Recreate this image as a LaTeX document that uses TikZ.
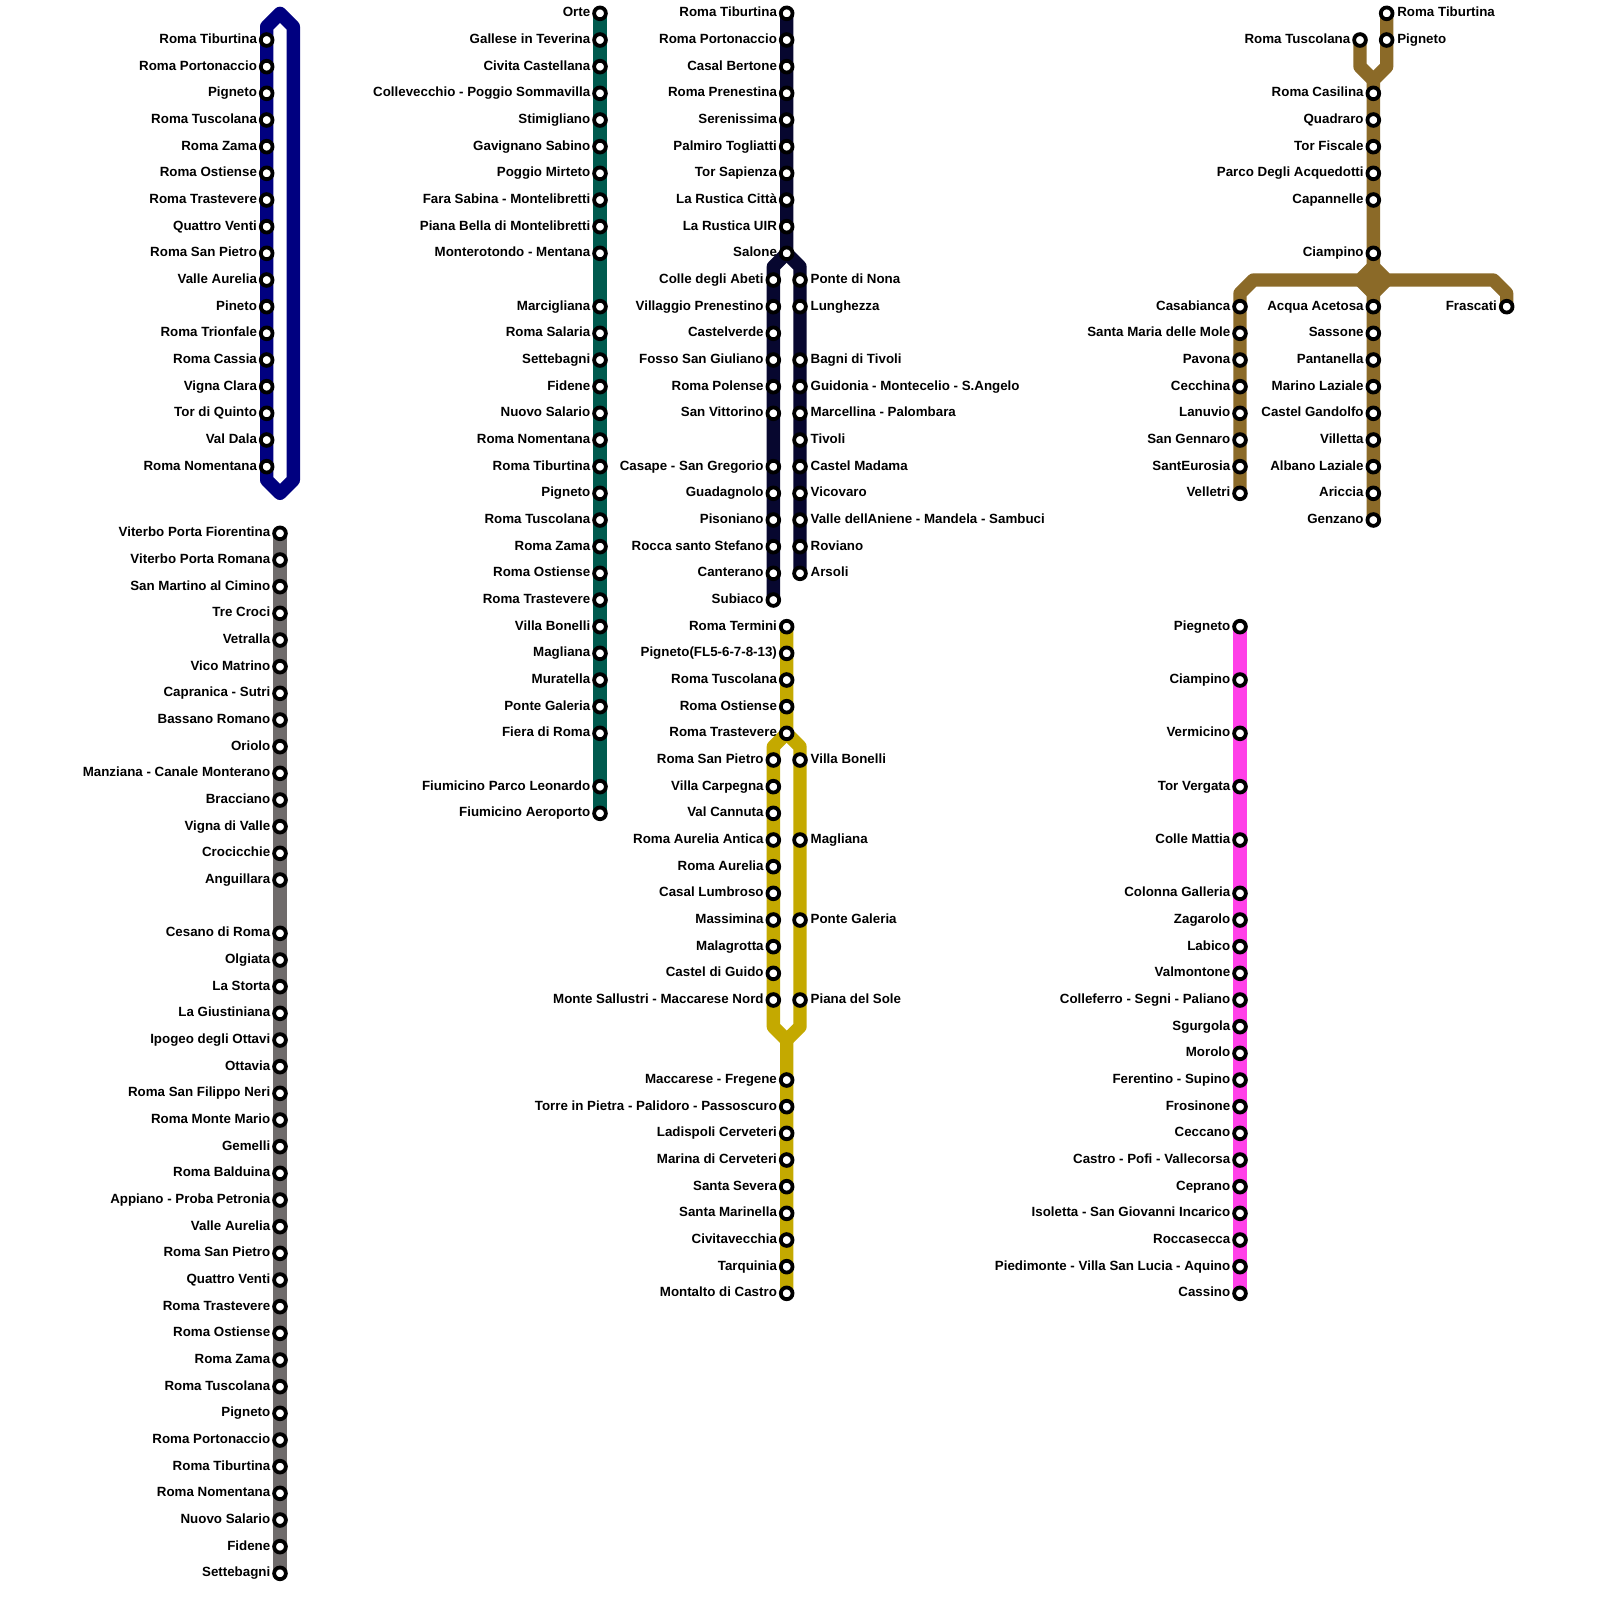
\documentclass[tikz,border=0pt]{standalone}
\usepackage{fontspec}
\setmainfont{Liberation Sans}
\pgfdeclarelayer{bg}
\pgfsetlayers{bg,main}
\definecolor{cblue}{HTML}{000080}
\definecolor{cgrey}{HTML}{6F6B6B}
\definecolor{cgreen}{HTML}{005A4E}
\definecolor{cdark}{HTML}{07072F}
\definecolor{cgold}{HTML}{C4A900}
\definecolor{cmag}{HTML}{FF40E8}
\definecolor{cbrown}{HTML}{8B6A28}
\tikzset{
  ring/.style={circle,draw=black,fill=white,line width=2.85pt,minimum size=8.8pt,inner sep=0pt,outer sep=0pt},
  lbl/.style={inner sep=0pt,outer sep=0pt,text=black,font=\fontsize{10}{12}\selectfont\bfseries},
  lblL/.style={anchor=base east,xshift=-7.3pt,yshift=-2.5pt},
  lblR/.style={anchor=base west,xshift=8pt,yshift=-2.5pt},
  band/.style={line width=10pt,line join=round,line cap=butt}
}
\newcommand{\stations}[4]{%
  \foreach \yy/\lab in {#4}{%
    \node[ring] (#1\yy) at (#2,\yy) {};
    \node[lbl,#3] (#1\yy t) at (#1\yy.center) {\lab};
  }%
}
\begin{document}
\begin{tikzpicture}[x=10pt,y=-10pt]
\useasboundingbox (0,0) rectangle (120,120);
\begin{pgfonlayer}{bg}
\fill[white] (0,0) rectangle (120,120);
\end{pgfonlayer}

% bends
\coordinate (aT) at (21,1); \coordinate (aTL) at (20,2); \coordinate (aTR) at (22,2);
\coordinate (aBR) at (22,36); \coordinate (aB) at (21,37); \coordinate (aBL) at (20,36);
\coordinate (eSL) at (58,20); \coordinate (eSR) at (60,20);
\coordinate (hSL) at (58,56); \coordinate (hSR) at (60,56);
\coordinate (hEL) at (58,77); \coordinate (hER) at (60,77); \coordinate (hM) at (59,78);
\coordinate (nL) at (102,5); \coordinate (nR) at (104,5); \coordinate (nM) at (103,6);
\coordinate (xT) at (103,20); \coordinate (xL) at (102,21); \coordinate (xR) at (104,21); \coordinate (xB) at (103,22);
\coordinate (wA) at (94,21); \coordinate (wB) at (93,22);
\coordinate (rA) at (112,21); \coordinate (rB) at (113,22);

% blue
\stations{a}{20}{lblL}{3/Roma Tiburtina,5/Roma Portonaccio,7/Pigneto,9/Roma Tuscolana,11/Roma Zama,13/Roma Ostiense,15/Roma Trastevere,17/Quattro Venti,19/Roma San Pietro,21/Valle Aurelia,23/Pineto,25/Roma Trionfale,27/Roma Cassia,29/Vigna Clara,31/Tor di Quinto,33/Val Dala,35/Roma Nomentana}
% grey
\stations{c}{21}{lblL}{40/Viterbo Porta Fiorentina,42/Viterbo Porta Romana,44/San Martino al Cimino,46/Tre Croci,48/Vetralla,50/Vico Matrino,52/Capranica - Sutri,54/Bassano Romano,56/Oriolo,58/Manziana - Canale Monterano,60/Bracciano,62/Vigna di Valle,64/Crocicchie,66/Anguillara,70/Cesano di Roma,72/Olgiata,74/La Storta,76/La Giustiniana,78/Ipogeo degli Ottavi,80/Ottavia,82/Roma San Filippo Neri,84/Roma Monte Mario,86/Gemelli,88/Roma Balduina,90/Appiano - Proba Petronia,92/Valle Aurelia,94/Roma San Pietro,96/Quattro Venti,98/Roma Trastevere,100/Roma Ostiense,102/Roma Zama,104/Roma Tuscolana,106/Pigneto,108/Roma Portonaccio,110/Roma Tiburtina,112/Roma Nomentana,114/Nuovo Salario,116/Fidene,118/Settebagni}
% green
\stations{d}{45}{lblL}{1/Orte,3/Gallese in Teverina,5/Civita Castellana,7/Collevecchio - Poggio Sommavilla,9/Stimigliano,11/Gavignano Sabino,13/Poggio Mirteto,15/Fara Sabina - Montelibretti,17/Piana Bella di Montelibretti,19/Monterotondo - Mentana,23/Marcigliana,25/Roma Salaria,27/Settebagni,29/Fidene,31/Nuovo Salario,33/Roma Nomentana,35/Roma Tiburtina,37/Pigneto,39/Roma Tuscolana,41/Roma Zama,43/Roma Ostiense,45/Roma Trastevere,47/Villa Bonelli,49/Magliana,51/Muratella,53/Ponte Galeria,55/Fiera di Roma,59/Fiumicino Parco Leonardo,61/Fiumicino Aeroporto}
% dark
\stations{e}{59}{lblL}{1/Roma Tiburtina,3/Roma Portonaccio,5/Casal Bertone,7/Roma Prenestina,9/Serenissima,11/Palmiro Togliatti,13/Tor Sapienza,15/La Rustica Città,17/La Rustica UIR,19/Salone}
\stations{f}{58}{lblL}{21/Colle degli Abeti,23/Villaggio Prenestino,25/Castelverde,27/Fosso San Giuliano,29/Roma Polense,31/San Vittorino,35/Casape - San Gregorio,37/Guadagnolo,39/Pisoniano,41/Rocca santo Stefano,43/Canterano,45/Subiaco}
\stations{g}{60}{lblR}{21/Ponte di Nona,23/Lunghezza,27/Bagni di Tivoli,29/Guidonia - Montecelio - S.Angelo,31/Marcellina - Palombara,33/Tivoli,35/Castel Madama,37/Vicovaro,39/Valle dellAniene - Mandela - Sambuci,41/Roviano,43/Arsoli}
% gold
\stations{h}{59}{lblL}{47/Roma Termini,49/Pigneto(FL5-6-7-8-13),51/Roma Tuscolana,53/Roma Ostiense,55/Roma Trastevere,81/Maccarese - Fregene,83/Torre in Pietra - Palidoro - Passoscuro,85/Ladispoli Cerveteri,87/Marina di Cerveteri,89/Santa Severa,91/Santa Marinella,93/Civitavecchia,95/Tarquinia,97/Montalto di Castro}
\stations{i}{58}{lblL}{57/Roma San Pietro,59/Villa Carpegna,61/Val Cannuta,63/Roma Aurelia Antica,65/Roma Aurelia,67/Casal Lumbroso,69/Massimina,71/Malagrotta,73/Castel di Guido,75/Monte Sallustri - Maccarese Nord}
\stations{j}{60}{lblR}{57/Villa Bonelli,63/Magliana,69/Ponte Galeria,75/Piana del Sole}
% magenta
\stations{k}{93}{lblL}{47/Piegneto,51/Ciampino,55/Vermicino,59/Tor Vergata,63/Colle Mattia,67/Colonna Galleria,69/Zagarolo,71/Labico,73/Valmontone,75/Colleferro - Segni - Paliano,77/Sgurgola,79/Morolo,81/Ferentino - Supino,83/Frosinone,85/Ceccano,87/Castro - Pofi - Vallecorsa,89/Ceprano,91/Isoletta - San Giovanni Incarico,93/Roccasecca,95/Piedimonte - Villa San Lucia - Aquino,97/Cassino}
% brown
\stations{l}{103}{lblL}{7/Roma Casilina,9/Quadraro,11/Tor Fiscale,13/Parco Degli Acquedotti,15/Capannelle,19/Ciampino,23/Acqua Acetosa,25/Sassone,27/Pantanella,29/Marino Laziale,31/Castel Gandolfo,33/Villetta,35/Albano Laziale,37/Ariccia,39/Genzano}
\stations{m}{93}{lblL}{23/Casabianca,25/Santa Maria delle Mole,27/Pavona,29/Cecchina,31/Lanuvio,33/San Gennaro,35/SantEurosia,37/Velletri}
\stations{n}{102}{lblL}{3/Roma Tuscolana}
\stations{o}{104}{lblR}{1/Roma Tiburtina,3/Pigneto}
\stations{p}{113}{lblL}{23/Frascati}

\begin{pgfonlayer}{bg}
\draw[band,cblue] (a35.center) -- (a3.center) -- (aTL) -- (aT) -- (aTR) -- (aBR) -- (aB) -- (aBL) -- cycle;
\draw[band,cgrey] (c40.center) -- (c118.center);
\draw[band,cgreen] (d1.center) -- (d61.center);
\draw[band,cdark] (e1.center) -- (e19.center) -- (eSL) -- (f21.center) -- (f45.center);
\draw[band,cdark] (e19.center) -- (eSR) -- (g21.center) -- (g43.center);
\draw[band,cgold] (h47.center) -- (h55.center) -- (hSL) -- (i57.center) -- (i75.center) -- (hEL) -- (hM) -- (h81.center) -- (h97.center);
\draw[band,cgold] (h55.center) -- (hSR) -- (j57.center) -- (j75.center) -- (hER) -- (hM);
\draw[band,cmag] (k47.center) -- (k97.center);
\draw[band,cbrown] (o1.center) -- (nR) -- (nM) -- (l7.center) -- (l39.center);
\draw[band,cbrown] (n3.center) -- (nL) -- (nM);
\draw[band,cbrown] (xT) -- (xL) -- (wA) -- (wB) -- (m23.center) -- (m37.center);
\draw[band,cbrown] (xT) -- (xR) -- (rA) -- (rB) -- (p23.center);
\draw[band,cbrown] (xL) -- (xB) -- (xR) -- (xL);
\end{pgfonlayer}
\end{tikzpicture}
\end{document}
